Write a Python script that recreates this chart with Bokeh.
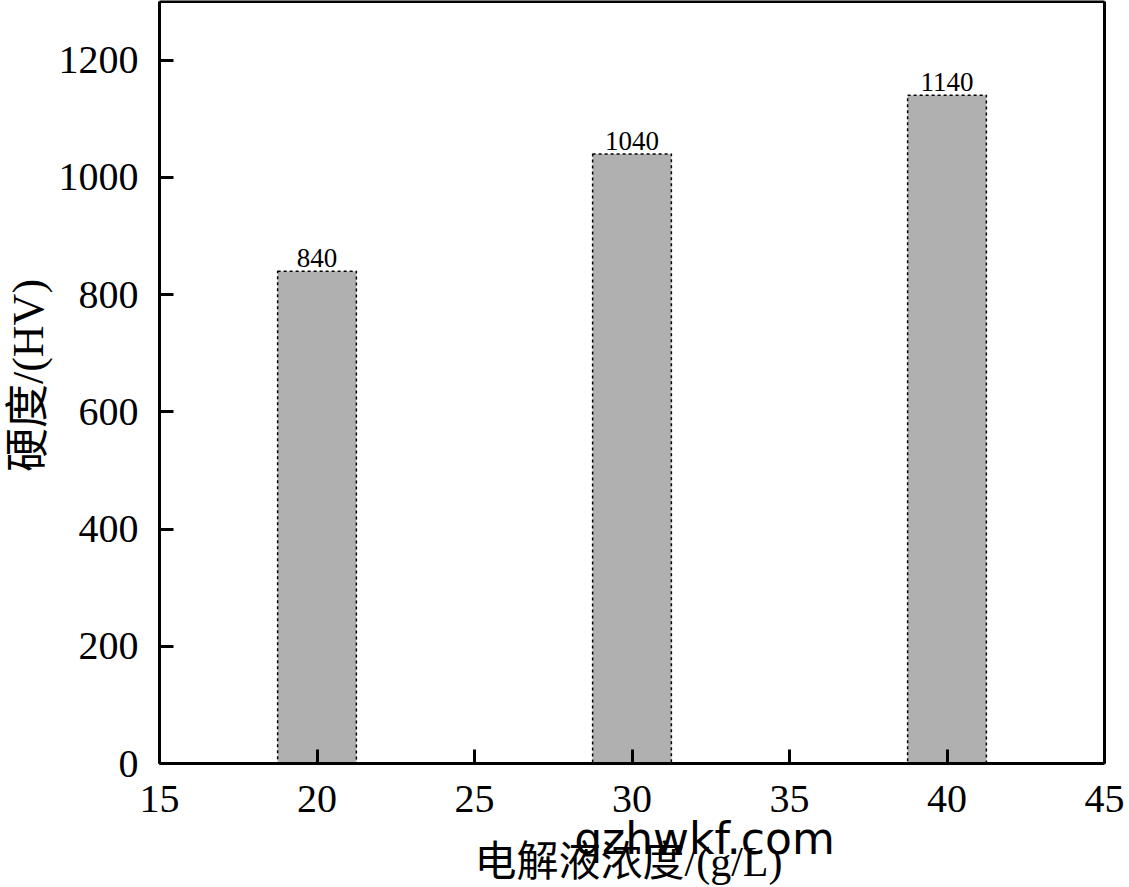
import math
from bokeh.plotting import figure
from bokeh.models import ColumnDataSource, FixedTicker, Range1d, Label, LinearAxis
from bokeh.embed import file_html
from bokeh.resources import INLINE
from bokeh.core.properties import value

concentration = [20, 30, 40]
hardness = [840, 1040, 1140]
bar_labels = ["840", "1040", "1140"]
x_ticks = [15, 20, 25, 30, 35, 40, 45]
y_ticks = [0, 200, 400, 600, 800, 1000, 1200]
x_title = "电解液浓度/(g/L)"
y_title = "硬度/(HV)"
watermark = "qzhwkf.com"

X_MIN, X_MAX = 15, 45
Y_MIN, Y_MAX = 0, 1300

# ---- layout (pixels inside the figure canvas, from top-left) ----
W, H = 1129, 887
PX_LEFT, PX_RIGHT = 159, 1104      # pixel of X_MIN, X_MAX
PY_BOTTOM, PY_TOP = 763, 1         # pixel of Y_MIN, Y_MAX
sx = (PX_RIGHT - PX_LEFT) / (X_MAX - X_MIN)
sy = (PY_BOTTOM - PY_TOP) / (Y_MAX - Y_MIN)
x_range = Range1d(X_MIN - PX_LEFT / sx, X_MAX + (W - PX_RIGHT) / sx)
y_range = Range1d(Y_MIN - (H - PY_BOTTOM) / sy, Y_MAX + PY_TOP / sy)

SERIF = "'Liberation Serif', 'Noto Sans CJK SC'"

src = ColumnDataSource(dict(x=concentration, top=hardness, label=bar_labels))

p = figure(width=W, height=H, output_backend="svg", toolbar_location=None,
           x_range=x_range, y_range=y_range,
           min_border_left=0, min_border_right=0, min_border_top=0, min_border_bottom=0)

p.vbar(x="x", top="top", bottom=0, width=2.5, source=src,
       fill_color="#b0b0b0", line_color="black", line_width=1.5, line_dash="3 3")
p.text(x="x", y="top", text="label", source=src, text_align="center",
       text_baseline="bottom", y_offset=-4, text_font=value("Liberation Serif"),
       text_font_size="27px", text_color="black")

p.xgrid.visible = False
p.ygrid.visible = False
p.outline_line_color = None

xax = p.xaxis[0]
yax = p.yaxis[0]
for ax in (xax, yax):
    ax.axis_line_width = 3
    ax.axis_line_color = "black"
    ax.major_tick_in = 14
    ax.major_tick_out = 0
    ax.major_tick_line_width = 3
    ax.major_tick_line_color = "black"
    ax.minor_tick_line_color = None
    ax.major_label_text_font = "Liberation Serif"
    ax.major_label_text_font_size = "40px"
    ax.major_label_text_color = "black"

xax.ticker = FixedTicker(ticks=x_ticks)
yax.ticker = FixedTicker(ticks=y_ticks)
xax.fixed_location = Y_MIN
yax.fixed_location = X_MIN
xax.bounds = (X_MIN, X_MAX)
yax.bounds = (Y_MIN, Y_MAX)
xax.major_label_standoff = 22
yax.major_label_standoff = 21

# top and right borders of the box
top_ax = LinearAxis(ticker=FixedTicker(ticks=[]), axis_line_width=3, axis_line_color="black",
                    major_tick_in=0, major_tick_out=0, minor_tick_in=0, minor_tick_out=0,
                    major_label_text_font_size="0px", fixed_location=Y_MAX, bounds=(X_MIN, X_MAX))
right_ax = LinearAxis(ticker=FixedTicker(ticks=[]), axis_line_width=3, axis_line_color="black",
                      major_tick_in=0, major_tick_out=0, minor_tick_in=0, minor_tick_out=0,
                      major_label_text_font_size="0px", fixed_location=X_MAX, bounds=(Y_MIN, Y_MAX))
p.add_layout(top_ax, "above")
p.add_layout(right_ax, "right")

# axis titles and watermark (screen units: from the canvas bottom-left)
p.add_layout(Label(x=628, y=H - 861, x_units="screen", y_units="screen",
                   text=x_title, text_align="center", text_baseline="middle",
                   text_font=SERIF, text_font_size="42px", text_color="black"))
p.add_layout(Label(x=28, y=H - 375, x_units="screen", y_units="screen",
                   text=y_title, text_align="center", text_baseline="middle", angle=math.pi / 2,
                   text_font=SERIF, text_font_size="44px", text_color="black"))
p.add_layout(Label(x=704, y=H - 838, x_units="screen", y_units="screen",
                   text=watermark, text_align="center", text_baseline="alphabetic",
                   text_font="DejaVu Sans", text_font_size="44px", text_color="black"))

open("out.html", "w").write(file_html(p, INLINE))
